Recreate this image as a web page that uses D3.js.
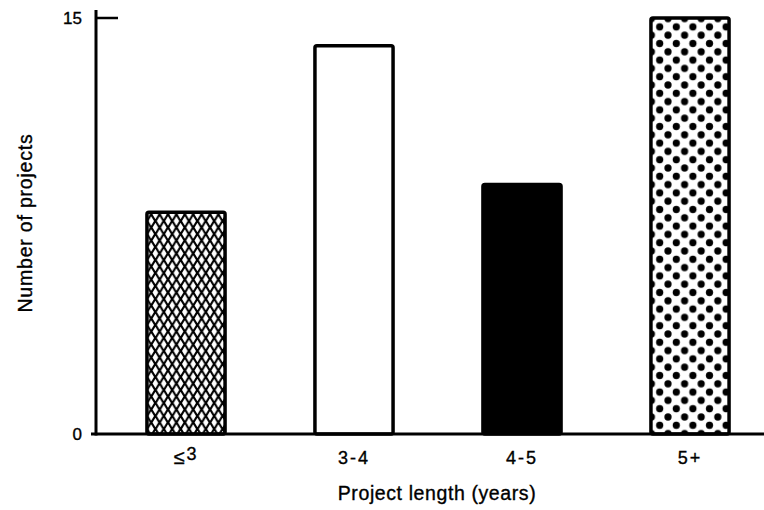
<!DOCTYPE html>
<html>
<head>
<meta charset="utf-8">
<script src="https://cdn.jsdelivr.net/npm/d3@7"></script>
<style>
  body { margin: 0; background: #fff; }
  text { font-family: "Liberation Sans", Arial, sans-serif; fill: #000; stroke: #000; stroke-width: 0.35px; }
</style>
</head>
<body>
<script>
// project length categories and counts
let categories = ['≤3', '3-4', '4-5', '5+']
let counts = [8, 14, 9, 15]
let fills = ['url(#hatch)', '#fff', '#000', 'url(#dots)']
let yTicks = [0, 15]

let width = 764, height = 510

let svg = d3.select('body').append('svg')
  .attr('width', width)
  .attr('height', height)

let defs = svg.append('defs')

// crosshatch: black with white diamonds
let hatch = defs.append('pattern')
  .attr('id', 'hatch')
  .attr('patternUnits', 'userSpaceOnUse')
  .attr('width', 8.4).attr('height', 13)
hatch.append('rect').attr('width', 8.4).attr('height', 13).attr('fill', '#000')
let diamond = (cx, cy) => `M${cx},${cy - 4.8} L${cx + 2.8},${cy} L${cx},${cy + 4.8} L${cx - 2.8},${cy} Z`
hatch.append('path').attr('fill', '#fff')
  .attr('d', diamond(4.2, 6.5) + diamond(0, 0) + diamond(8.4, 0) + diamond(0, 13) + diamond(8.4, 13))

// dots: black dots on white, offset rows
let dots = defs.append('pattern')
  .attr('id', 'dots')
  .attr('patternUnits', 'userSpaceOnUse')
  .attr('x', 4).attr('y', 2)
  .attr('width', 16.6).attr('height', 16.6)
dots.append('rect').attr('width', 16.6).attr('height', 16.6).attr('fill', '#fff')
;[[0, 0], [16.6, 0], [0, 16.6], [16.6, 16.6], [8.3, 8.3]].forEach(p => {
  dots.append('circle').attr('cx', p[0]).attr('cy', p[1]).attr('r', 3.6).attr('fill', '#000')
})

let x = d3.scaleBand()
  .domain(categories)
  .range([102, 774])
  .paddingInner(0.535)
  .paddingOuter(0.2675)

let y = d3.scaleLinear()
  .domain([0, 15])
  .range([434, 18])

// bars
svg.selectAll('.bar').data(categories).enter()
  .append('rect')
  .attr('class', 'bar')
  .attr('x', d => x(d))
  .attr('y', (d, i) => y(counts[i]))
  .attr('width', x.bandwidth())
  .attr('height', (d, i) => y(0) - y(counts[i]))
  .attr('rx', 2)
  .attr('fill', (d, i) => fills[i])
  .attr('stroke', '#000')
  .attr('stroke-width', 3.5)

// y axis
svg.append('line')
  .attr('x1', 96).attr('x2', 96)
  .attr('y1', 10).attr('y2', y(0) + 1.5)
  .attr('stroke', '#000').attr('stroke-width', 3)

svg.append('line')
  .attr('x1', 96).attr('x2', 118)
  .attr('y1', y(15)).attr('y2', y(15))
  .attr('stroke', '#000').attr('stroke-width', 2.5)

svg.selectAll('.ytick').data(yTicks).enter()
  .append('text')
  .attr('class', 'ytick')
  .attr('x', 82)
  .attr('y', d => y(d) + 6)
  .attr('text-anchor', 'end')
  .attr('font-size', 17)
  .text(d => d)

// baseline
svg.append('line')
  .attr('x1', 91).attr('x2', width)
  .attr('y1', y(0)).attr('y2', y(0))
  .attr('stroke', '#000').attr('stroke-width', 3)

// category labels
let xlab = svg.selectAll('.xlab').data(categories).enter()
  .append('text')
  .attr('class', 'xlab')
  .attr('x', d => x(d) + x.bandwidth() / 2)
  .attr('y', 464)
  .attr('text-anchor', 'middle')
  .attr('font-size', 18)
  .attr('letter-spacing', 2)

xlab.each(function (d) {
  let t = d3.select(this)
  if (d[0] === '≤') {
    t.append('tspan').attr('font-size', 20).text('≤')
    t.append('tspan').attr('dy', -4).text(d.slice(1))
  } else {
    t.text(d)
  }
})

svg.append('text')
  .attr('x', 437)
  .attr('y', 500)
  .attr('text-anchor', 'middle')
  .attr('font-size', 19.5)
  .attr('letter-spacing', 0.6)
  .text('Project length (years)')

svg.append('text')
  .attr('transform', 'translate(32,223) rotate(-90)')
  .attr('text-anchor', 'middle')
  .attr('font-size', 19.5)
  .attr('letter-spacing', 0.8)
  .text('Number of projects')
</script>
</body>
</html>
